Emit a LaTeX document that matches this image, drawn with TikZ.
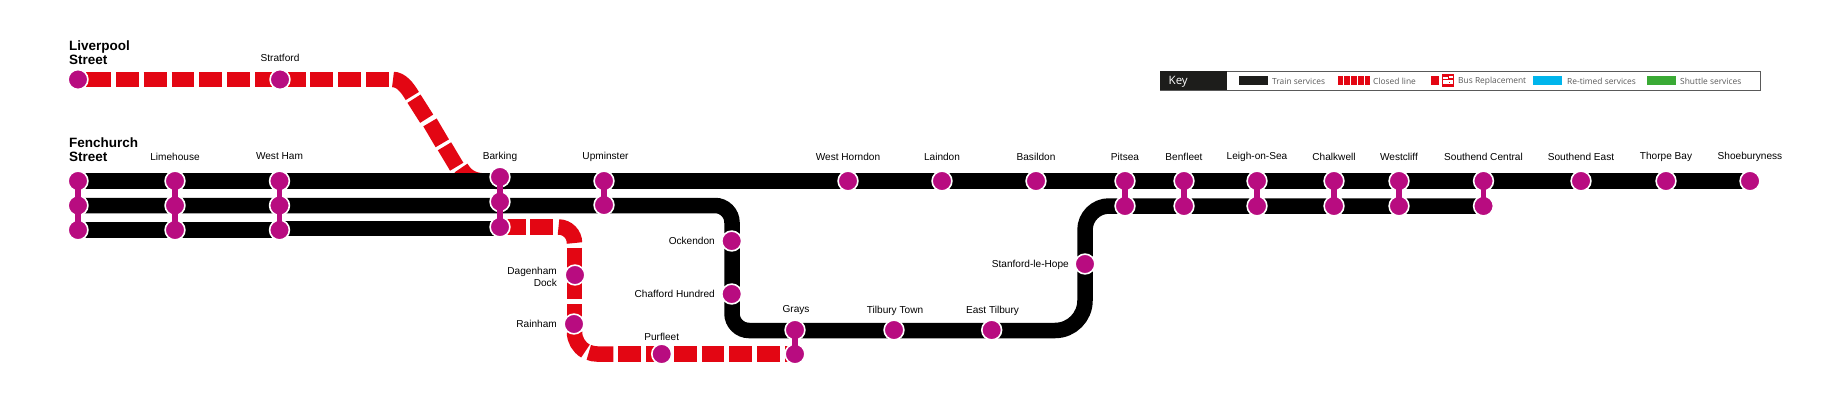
\documentclass[tikz,border=0pt]{standalone}
\usepackage{fontspec}
\setmainfont{Liberation Sans}
\newfontfamily\keyfont{Open Sans}
\definecolor{stn}{HTML}{B80C80}
\definecolor{clred}{HTML}{E30613}
\definecolor{keyblk}{HTML}{1D1D1B}
\definecolor{keyblue}{HTML}{00B5EC}
\definecolor{keygreen}{HTML}{3AAA35}
\tikzset{
  x=1pt,y=-1pt,
  train/.style={line width=15.5pt,black},
  closed/.style={line width=15.5pt,clred},
  stnlink/.style={line width=5.6pt,stn},
  station/.style={circle,fill=stn,draw=white,line width=1.6pt,minimum size=19.8pt,inner sep=0pt},
  lbl/.style={font=\fontsize{10.1}{12}\selectfont,text=black,inner sep=0pt},
  term/.style={font=\fontsize{13.5}{14}\selectfont\bfseries,text=black,inner sep=0pt,align=left,anchor=north west},
  keytxt/.style={font=\keyfont\fontsize{8.4}{10}\selectfont,text=black!65,inner sep=0pt,anchor=west},
}
\begin{document}
\begin{tikzpicture}
\useasboundingbox (0,0) rectangle (1823,404);
% closed line, Liverpool Street branch
\foreach \a/\b in {78/111,116/139,143.5/166.5,171.5/194.4,199/222.3,227/250,255/278,283/306,310.4/333.3,338.3/361.3,366/389.3}{
  \draw[closed] (\a,79.5) -- (\b,79.5);
}
\draw[closed] (393,79.5) .. controls (401,79.5) and (407.3,87.5) .. (412.3,96);
\draw[closed] (414,98.7) -- (426.7,118.7);
\draw[closed] (430,122.4) -- (442.3,143.3);
\draw[closed] (444.5,146.3) -- (456.7,166.7);
\draw[closed] (461,168) .. controls (466,176) and (472,180.5) .. (484,181) -- (506,181.5);
% closed line, Dagenham loop
\draw[closed] (500,227) -- (525.7,227);
\draw[closed] (530,227) -- (553.3,227);
\draw[closed] (558.5,227) arc[start angle=-90,end angle=0,radius=16];
\draw[closed] (574.5,247.7) -- (574.5,270.5);
\draw[closed] (574.5,275.5) -- (574.5,299);
\draw[closed] (574.5,304) -- (574.5,327);
\draw[closed] (574.5,332) arc[start angle=180,end angle=120,radius=22];
\draw[closed] (588.8,352.4) arc[start angle=112,end angle=90,radius=22] -- (613.3,354);
\foreach \a/\b in {618.3/640.7,646/669,674/697,701.7/724.3,729/751.7,757/780,785/795}{
  \draw[closed] (\a,354) -- (\b,354);
}
% black lines
\draw[train] (78,181) -- (1750,181);
\draw[train] (78,205.5) -- (715,205.5) arc[start angle=-90,end angle=0,radius=17] -- (732,313.5) arc[start angle=180,end angle=90,radius=17] -- (1055,330.5) arc[start angle=90,end angle=0,radius=30] -- (1085,230) arc[start angle=180,end angle=270,radius=24] -- (1483.5,206);
\draw[train] (78,230) -- (279.5,230);
\draw[train] (279.5,228.5) -- (500,228.5);
% stations
\foreach \n/\x/\y in {
 s1/78/79.5,s2/280/79.5,
 s3/78/181,s4/78/205.5,s5/78/230,
 s6/175/181,s7/175/205.5,s8/175/230,
 s9/279.5/181,s10/279.5/205.5,s11/279.5/230,
 s12/500/177,s13/500/201.7,s14/500/227,
 s15/604/181,s16/604/205,
 s17/731.7/241,s18/731.7/294,
 s19/795/330,s20/795/354,
 s21/661.7/354,s22/575/275,s23/574/324,
 s24/894/330,s25/991.7/330,s26/1085/264,
 s27/848/181,s28/942/181,s29/1036/181,
 s30/1125/181,s31/1184/181,s32/1257/181,s33/1334/181,s34/1399/181,s35/1483.5/181,
 s36/1581/181,s37/1666/181,s38/1750/181,
 s39/1125/206,s40/1184/206,s41/1257/206,s42/1334/206,s43/1399/206,s44/1483.5/206}{
  \node[station] (\n) at (\x,\y) {};
}
% interchange links between stations
\foreach \a/\b in {s3/s4,s4/s5,s6/s7,s7/s8,s9/s10,s10/s11,s12/s13,s13/s14,s15/s16,s19/s20,s30/s39,s31/s40,s32/s41,s33/s42,s34/s43,s35/s44}{
  \draw[stnlink] (\a.center) -- (\b.center);
}
% labels
\node[term] (tl) at (69,41) {Liverpool\\Street};
\node[term] (tf) at (69,138) {Fenchurch\\Street};
\foreach \n/\x/\y/\t in {
 a/280/57.5/Stratford,b/175/156.5/Limehouse,c/279.5/156.5/West Ham,d/500/156.5/Barking,e/605.5/156.5/Upminster,
 f/848/156.5/West Horndon,g/942/157/Laindon,h/1036/157/Basildon,i/1125/157/Pitsea,j/1184/157/Benfleet,
 k/1257/157/Leigh-on-Sea,l/1334/157/Chalkwell,m/1399/157/Westcliff,n/1483.5/157/Southend Central,
 o/1581/157/Southend East,p/1666/157/Thorpe Bay,q/1750/157/Shoeburyness,
 r/796/310/Grays,s/661.7/337/Purfleet,t/895/310.5/Tilbury Town,u/992.5/310.5/East Tilbury}{
  \node[lbl] (l\n) at (\x,\y) {\t};
}
\foreach \n/\x/\y/\t in {v/715/241/Ockendon,w/715/294/Chafford Hundred,x/1069/264.5/Stanford-le-Hope,y/557/324/Rainham}{
  \node[lbl,anchor=east] (l\n) at (\x,\y) {\t};
}
\node[lbl,anchor=east,align=right] (lz) at (557,276.5) {Dagenham\\Dock};
% key
\node[draw=black!65,line width=.8pt,minimum width=600pt,minimum height=18.5pt,inner sep=0pt,anchor=north west] (kbox) at (1160,71) {};
\node[fill=keyblk,minimum width=67pt,minimum height=19pt,inner sep=0pt,anchor=north west] (khead) at (1160,71) {};
\node[anchor=west,text=white,inner sep=0pt,font=\keyfont\fontsize{11.5}{12}\selectfont] (ktitle) at (1168.5,81.4) {Key};
\fill[keyblk] (1239,76) rectangle (1267.5,85);
\node[keytxt] (k1) at (1272,81.3) {Train services};
\foreach \x in {1337.5,1344.3,1351,1357.8,1364.5}{\fill[clred] (\x,76) rectangle ++(5.7,9);}
\node[keytxt] (k2) at (1373,81.3) {Closed line};
\fill[clred] (1431,76) rectangle (1439,85);
\fill[clred] (1442,74.5) rectangle (1453.5,87);
\fill[white] (1443.2,77) rectangle (1448,79.2);
\fill[white] (1443.2,80.3) rectangle (1452.5,84.3);
\fill[white] (1449,75.7) rectangle (1452.5,78.5);
\fill[clred] (1448.5,81.5) rectangle (1450,83);
\node[keytxt] (k3) at (1458,81.3) {Bus Replacement};
\fill[keyblue] (1533,76) rectangle (1562,85);
\node[keytxt] (k4) at (1567,81.3) {Re-timed services};
\fill[keygreen] (1647,76) rectangle (1676,85);
\node[keytxt] (k5) at (1680,81.3) {Shuttle services};
\end{tikzpicture}
\end{document}
